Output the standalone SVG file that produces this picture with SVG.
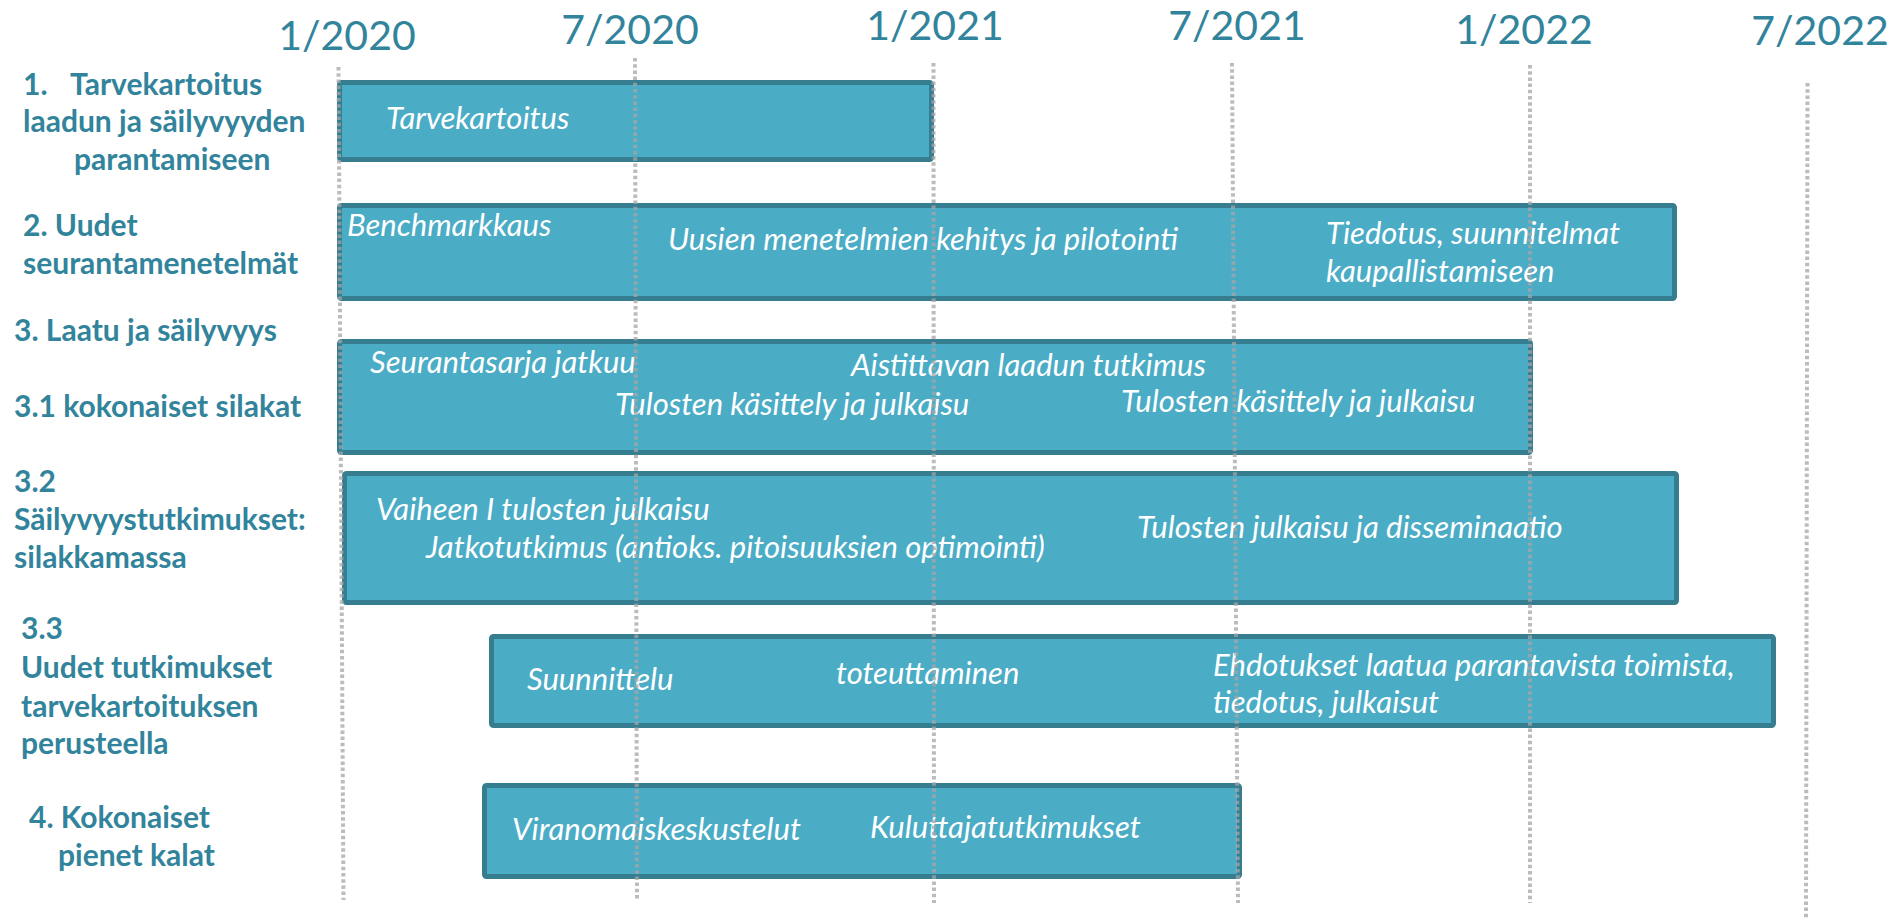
<svg xmlns="http://www.w3.org/2000/svg" width="1901" height="920" viewBox="0 0 1901 920">
<style>
.date{font-family:Lato,"Liberation Sans",sans-serif;font-size:41px;fill:#31849B;font-weight:normal}
.lbl{font-family:Lato,"Liberation Sans",sans-serif;font-size:30px;font-weight:bold;fill:#31849B}
.bar{fill:#4BACC6;stroke:#367D90;stroke-width:5}
.bt{font-family:Lato,"Liberation Sans",sans-serif;font-size:31px;font-style:italic;fill:#FFFFFF}
.grid{stroke:#A6A6A6;stroke-width:4;stroke-dasharray:3.5 2.7;fill:none;opacity:0.75}
</style>
<rect width="1901" height="920" fill="#FFFFFF"/>
<g id="dates">
<text class="date" x="347" y="50" text-anchor="middle">1/2020</text>
<text class="date" x="630" y="44" text-anchor="middle">7/2020</text>
<text class="date" x="935" y="40" text-anchor="middle">1/2021</text>
<text class="date" x="1237" y="40" text-anchor="middle">7/2021</text>
<text class="date" x="1524" y="44" text-anchor="middle">1/2022</text>
<text class="date" x="1820" y="45" text-anchor="middle">7/2022</text>
</g>
<g id="labels">
<text class="lbl" x="23" y="95">1.<tspan x="70">Tarvekartoitus</tspan></text>
<text class="lbl" x="23" y="132">laadun ja säilyvyyden</text>
<text class="lbl" x="74" y="170">parantamiseen</text>
<text class="lbl" x="23" y="236">2. Uudet</text>
<text class="lbl" x="23" y="274">seurantamenetelmät</text>
<text class="lbl" x="14" y="341">3. Laatu ja säilyvyys</text>
<text class="lbl" x="14" y="417">3.1 kokonaiset silakat</text>
<text class="lbl" x="14" y="492">3.2</text>
<text class="lbl" x="14" y="530">Säilyvyystutkimukset:</text>
<text class="lbl" x="14" y="568">silakkamassa</text>
<text class="lbl" x="21" y="639">3.3</text>
<text class="lbl" x="21" y="678">Uudet tutkimukset</text>
<text class="lbl" x="21" y="717">tarvekartoituksen</text>
<text class="lbl" x="21" y="754">perusteella</text>
<text class="lbl" x="29" y="828">4. Kokonaiset</text>
<text class="lbl" x="58" y="866">pienet kalat</text>
</g>
<g id="bar1">
<rect class="bar" x="339.5" y="82.5" width="592" height="77" rx="2"/>
<text class="bt" x="386" y="129">Tarvekartoitus</text>
</g>
<g id="bar2">
<rect class="bar" x="339.5" y="205.5" width="1335" height="93" rx="2"/>
<text class="bt" x="347" y="236">Benchmarkkaus</text>
<text class="bt" x="668" y="250">Uusien menetelmien kehitys ja pilotointi</text>
<text class="bt" x="1326" y="244">Tiedotus, suunnitelmat</text>
<text class="bt" x="1326" y="282">kaupallistamiseen</text>
</g>
<g id="bar3">
<rect class="bar" x="339.5" y="341.5" width="1191" height="111" rx="2"/>
<text class="bt" x="370" y="373">Seurantasarja jatkuu</text>
<text class="bt" x="851" y="376">Aistittavan laadun tutkimus</text>
<text class="bt" x="615" y="415">Tulosten käsittely ja julkaisu</text>
<text class="bt" x="1121" y="412">Tulosten käsittely ja julkaisu</text>
</g>
<g id="bar4">
<rect class="bar" x="344.5" y="473.5" width="1332" height="129" rx="2"/>
<text class="bt" x="376" y="520">Vaiheen I tulosten julkaisu</text>
<text class="bt" x="426" y="558">Jatkotutkimus (antioks. pitoisuuksien optimointi)</text>
<text class="bt" x="1137" y="538">Tulosten julkaisu ja disseminaatio</text>
</g>
<g id="bar5">
<rect class="bar" x="491.5" y="636.5" width="1282" height="89" rx="2"/>
<text class="bt" x="527" y="690">Suunnittelu</text>
<text class="bt" x="836" y="684">toteuttaminen</text>
<text class="bt" x="1213" y="676">Ehdotukset laatua parantavista toimista,</text>
<text class="bt" x="1213" y="713">tiedotus, julkaisut</text>
</g>
<g id="bar6">
<rect class="bar" x="484.5" y="785.5" width="755" height="91" rx="2"/>
<text class="bt" x="512" y="840">Viranomaiskeskustelut</text>
<text class="bt" x="870" y="838">Kuluttajatutkimukset</text>
</g>
<g id="connectors">
<line class="grid" x1="338.5" y1="67" x2="343.5" y2="900"/>
<line class="grid" x1="635" y1="58" x2="637" y2="900"/>
<line class="grid" x1="933.5" y1="63" x2="934" y2="903"/>
<line class="grid" x1="1232" y1="63" x2="1238" y2="903"/>
<line class="grid" x1="1530" y1="65" x2="1530" y2="903"/>
<line class="grid" x1="1807.5" y1="83" x2="1806" y2="920"/>
</g>
</svg>
